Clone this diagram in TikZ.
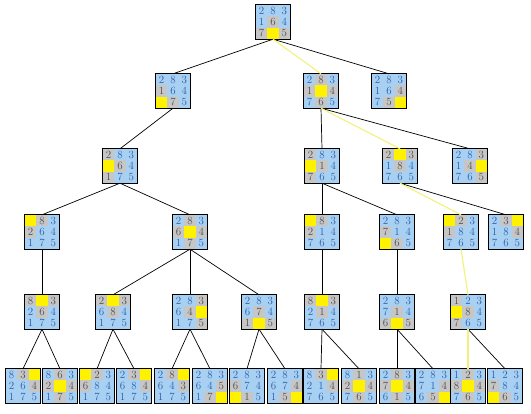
\documentclass[tikz,border=0pt]{standalone}
\usepackage{tikz}
\definecolor{cellblue}{HTML}{A8D0F2}
\definecolor{cellgray}{HTML}{C6C6C6}
\definecolor{digitblue}{HTML}{2B5CA6}
\definecolor{pathyellow}{HTML}{F2F27A}

% one 3x3 board: name, centre, cells (digit/kind, kind n=blue g=gray y=blank)
\newcommand{\board}[3]{%
  \node[box] (#1) at (#2) {};
  \foreach \v/\t [count=\i from 0] in {#3} {
    \pgfmathtruncatemacro{\brow}{\i/3}
    \pgfmathtruncatemacro{\bcol}{mod(\i,3)}
    \node[cell\t] at ([shift={(\bcol*11.33-11.33,\brow*11.33-11.33)}]#1.center) {\v};
  }
  \draw[line width=0.8pt] (#1.north west) rectangle (#1.south east);
}

\begin{document}
\begin{tikzpicture}[x=1pt,y=-1pt,
    box/.style={minimum size=34pt,inner sep=0pt},
    cell/.style={minimum size=11.33pt,inner sep=0pt,font=\fontsize{11}{11}\selectfont},
    celln/.style={cell,fill=cellblue,text=digitblue},
    cellg/.style={cell,fill=cellgray,text=black!70},
    celly/.style={cell,fill=yellow,text=yellow},
    edge/.style={line width=0.7pt},
    path/.style={pathyellow,line width=1.1pt}]
  \useasboundingbox (0,0) rectangle (531,414);

  % level 0
  \board{s0}{273,22}{2/n,8/n,3/n,1/n,6/g,4/n,7/g,0/y,5/g}
  % level 1
  \board{a}{173,91}{2/n,8/n,3/n,1/g,6/n,4/n,0/y,7/g,5/n}
  \board{b}{321,91}{2/n,8/g,3/n,1/g,0/y,4/g,7/n,6/g,5/n}
  \board{c}{389,91}{2/n,8/n,3/n,1/n,6/n,4/g,7/n,5/g,0/y}
  % level 2
  \board{a1}{120,166}{2/g,8/n,3/n,0/y,6/g,4/n,1/g,7/n,5/n}
  \board{b1}{322,166}{2/g,8/n,3/n,0/y,1/g,4/n,7/g,6/n,5/n}
  \board{b2}{400,166}{2/g,0/y,3/g,1/n,8/g,4/n,7/n,6/n,5/n}
  \board{b3}{470,166}{2/n,8/n,3/g,1/n,4/g,0/y,7/n,6/n,5/g}
  % level 3
  \board{a11}{42,232}{0/y,8/g,3/n,2/g,6/n,4/n,1/n,7/n,5/n}
  \board{a12}{190,232}{2/n,8/g,3/n,6/g,0/y,4/g,1/n,7/g,5/n}
  \board{b11}{322,232}{0/y,8/g,3/n,2/g,1/n,4/n,7/n,6/n,5/n}
  \board{b12}{397,232}{2/n,8/n,3/n,7/g,1/n,4/n,0/y,6/g,5/n}
  \board{b21}{461,232}{0/y,2/g,3/n,1/g,8/n,4/n,7/n,6/n,5/n}
  \board{b22}{506,232}{2/n,3/g,0/y,1/n,8/n,4/g,7/n,6/n,5/n}
  % level 4
  \board{a111}{42,312}{8/g,0/y,3/g,2/n,6/g,4/n,1/n,7/n,5/n}
  \board{a121}{113,312}{2/g,0/y,3/g,6/n,8/g,4/n,1/n,7/n,5/n}
  \board{a122}{190,312}{2/n,8/n,3/g,6/n,4/g,0/y,1/n,7/n,5/g}
  \board{a123}{259,312}{2/n,8/n,3/n,6/n,7/g,4/n,1/g,0/y,5/g}
  \board{b111}{322,312}{8/g,0/y,3/g,2/n,1/g,4/n,7/n,6/n,5/n}
  \board{b121}{397,312}{2/n,8/n,3/n,7/n,1/g,4/n,6/g,0/y,5/g}
  \board{b211}{468,312}{1/g,2/n,3/n,0/y,8/g,4/n,7/g,6/n,5/n}
  % level 5
  \board{e1}{23,386}{8/n,3/g,0/y,2/n,6/n,4/g,1/n,7/n,5/n}
  \board{e2}{60,386}{8/n,6/g,3/n,2/g,0/y,4/g,1/n,7/g,5/n}
  \board{e3}{97,386}{0/y,2/g,3/n,6/g,8/n,4/n,1/n,7/n,5/n}
  \board{e4}{134,386}{2/n,3/g,0/y,6/n,8/n,4/g,1/n,7/n,5/n}
  \board{e5}{172,386}{2/n,8/g,0/y,6/n,4/n,3/g,1/n,7/n,5/n}
  \board{e6}{210,386}{2/n,8/n,3/n,6/n,4/n,5/g,1/n,7/g,0/y}
  \board{e7}{247,386}{2/n,8/n,3/n,6/g,7/n,4/n,0/y,1/g,5/n}
  \board{e8}{285,386}{2/n,8/n,3/n,6/n,7/n,4/g,1/n,5/g,0/y}
  \board{e9}{321,386}{8/n,3/g,0/y,2/n,1/n,4/g,7/n,6/n,5/n}
  \board{e10}{359,386}{8/n,1/g,3/n,2/g,0/y,4/g,7/n,6/g,5/n}
  \board{e11}{397,386}{2/n,8/g,3/n,7/g,0/y,4/g,6/n,1/g,5/n}
  \board{e12}{433,386}{2/n,8/n,3/n,7/n,1/n,4/g,6/n,5/g,0/y}
  \board{e13}{468,386}{1/n,2/g,3/n,8/g,0/y,4/g,7/n,6/g,5/n}
  \board{e14}{505,386}{1/n,2/n,3/n,7/g,8/n,4/n,0/y,6/g,5/n}

  % connectors
  \draw[edge] (s0.south) -- (a.north);
  \draw[edge] (s0.south) -- (c.north);
  \draw[edge] (a.south) -- (a1.north);
  \draw[edge] (b.south) -- (b1.north);
  \draw[edge] (b.south) -- (b3.north);
  \draw[edge] (a1.south) -- (a11.north);
  \draw[edge] (a1.south) -- (a12.north);
  \draw[edge] (b1.south) -- (b11.north);
  \draw[edge] (b1.south) -- (b12.north);
  \draw[edge] (b2.south) -- (b22.north);
  \draw[edge] (a11.south) -- (a111.north);
  \draw[edge] (a12.south) -- (a121.north);
  \draw[edge] (a12.south) -- (a122.north);
  \draw[edge] (a12.south) -- (a123.north);
  \draw[edge] (b11.south) -- (b111.north);
  \draw[edge] (b12.south) -- (b121.north);
  \draw[edge] (a111.south) -- (e1.north);
  \draw[edge] (a111.south) -- (e2.north);
  \draw[edge] (a121.south) -- (e3.north);
  \draw[edge] (a121.south) -- (e4.north);
  \draw[edge] (a122.south) -- (e5.north);
  \draw[edge] (a122.south) -- (e6.north);
  \draw[edge] (a123.south) -- (e7.north);
  \draw[edge] (a123.south) -- (e8.north);
  \draw[edge] (b111.south) -- (e9.north);
  \draw[edge] (b111.south) -- (e10.north);
  \draw[edge] (b121.south) -- (e11.north);
  \draw[edge] (b121.south) -- (e12.north);
  \draw[edge] (b211.south) -- (e14.north);
  % solution path
  \draw[path] (s0.south) -- (b.north);
  \draw[path] (b.south) -- (b2.north);
  \draw[path] (b2.south) -- (b21.north);
  \draw[path] (b21.south) -- (b211.north);
  \draw[path] (b211.south) -- (e13.north);
\end{tikzpicture}
\end{document}
